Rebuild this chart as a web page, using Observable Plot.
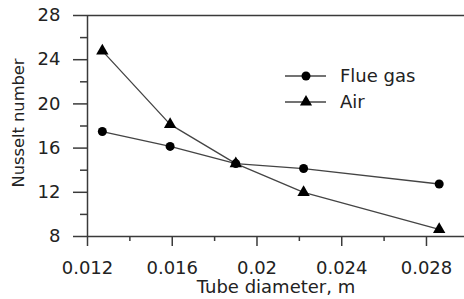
<!DOCTYPE html>
<html>
<head>
<meta charset="utf-8">
<script src="https://cdn.jsdelivr.net/npm/d3@7"></script>
<script src="https://cdn.jsdelivr.net/npm/@observablehq/plot@0.6"></script>
<style>
  html, body { margin: 0; padding: 0; background: white; }
  #chart { position: relative; width: 464px; height: 299px; }
</style>
</head>
<body>
<div id="chart"></div>
<script>
const diameters = [0.0127, 0.0159, 0.0190, 0.0222, 0.0286];
const flueGas = [17.5, 16.15, 14.6, 14.15, 12.75];
const air = [24.8, 18.15, 14.6, 12.0, 8.65];
const seriesNames = ["Flue gas", "Air"];
const xTicks = [0.012, 0.016, 0.02, 0.024, 0.028];
const xTickLabels = ["0.012", "0.016", "0.02", "0.024", "0.028"];
const xMinorTicks = [0.014, 0.018, 0.022, 0.026];
const yTicks = [8, 12, 16, 20, 24, 28];
const yMinorTicks = [10, 14, 18, 22, 26];
const xLabel = "Tube diameter, m";
const yLabel = "Nusselt number";

const flueData = diameters.map((d, i) => ({x: d, y: flueGas[i]}));
const airData = diameters.map((d, i) => ({x: d, y: air[i]}));

const axisColor = "#3a3a3a";
const lineColor = "#444";

const plot = Plot.plot({
  width: 464,
  height: 299,
  marginLeft: 87,
  marginRight: 0,
  marginTop: 15,
  marginBottom: 63,
  style: {fontFamily: "DejaVu Sans", fontSize: "18px", color: "#222", background: "white"},
  x: {domain: [0.012, 0.029795], axis: null},
  y: {domain: [8, 28], axis: null},
  marks: [
    Plot.ruleY([28], {stroke: axisColor, strokeWidth: 1.5}),
    Plot.ruleY([8], {stroke: axisColor, strokeWidth: 1.5}),
    Plot.ruleX([0.012], {stroke: axisColor, strokeWidth: 1.5}),
    Plot.axisX({ticks: xTicks, tickSize: 10, tickPadding: 15, tickFormat: (d, i) => xTickLabels[i], stroke: axisColor, strokeWidth: 1.5, fontSize: 18, label: null}),
    Plot.axisX({ticks: xMinorTicks, tickSize: 5, tickFormat: () => "", stroke: axisColor, strokeWidth: 1.5, label: null}),
    Plot.axisY({ticks: yTicks, tickSize: 14, tickPadding: 13, tickFormat: d => String(d), stroke: axisColor, strokeWidth: 1.5, fontSize: 18, label: null}),
    Plot.axisY({ticks: yMinorTicks, tickSize: 7, tickFormat: () => "", stroke: axisColor, strokeWidth: 1.5, label: null}),
    Plot.line(flueData, {x: "x", y: "y", stroke: lineColor, strokeWidth: 1.3}),
    Plot.line(airData, {x: "x", y: "y", stroke: lineColor, strokeWidth: 1.3}),
    Plot.dot(flueData, {x: "x", y: "y", r: 4.5, fill: "black", symbol: "circle"}),
    Plot.dot(airData, {x: "x", y: "y", r: 4.6, fill: "black", symbol: "triangle"}),
    Plot.text([xLabel], {frameAnchor: "bottom", dy: 51, lineAnchor: "middle", textAnchor: "middle", text: d => d, fontSize: 18, fill: "#222"}),
    Plot.text([yLabel], {frameAnchor: "left", dx: -69, dy: -3, rotate: -90, lineAnchor: "middle", textAnchor: "middle", text: d => d, fontSize: 16.3, fill: "#222"})
  ]
});

document.getElementById("chart").appendChild(plot);

// Legend
const svg = d3.select(plot);
const lg = svg.append("g").attr("text-anchor", "start");
const legendRows = [
  {name: seriesNames[0], symbol: d3.symbolCircle, y: 76},
  {name: seriesNames[1], symbol: d3.symbolTriangle, y: 102}
];
for (const row of legendRows) {
  lg.append("line").attr("x1", 285).attr("x2", 326).attr("y1", row.y).attr("y2", row.y)
    .attr("stroke", lineColor).attr("stroke-width", 1.3);
  lg.append("path").attr("d", d3.symbol(row.symbol, Math.PI * 4.5 * 4.5)())
    .attr("transform", `translate(306,${row.y})`).attr("fill", "black");
  lg.append("text").attr("x", 340).attr("y", row.y).attr("dy", "0.35em")
    .attr("text-anchor", "start")
    .attr("font-size", 18).attr("fill", "#222").text(row.name);
}
</script>
</body>
</html>
